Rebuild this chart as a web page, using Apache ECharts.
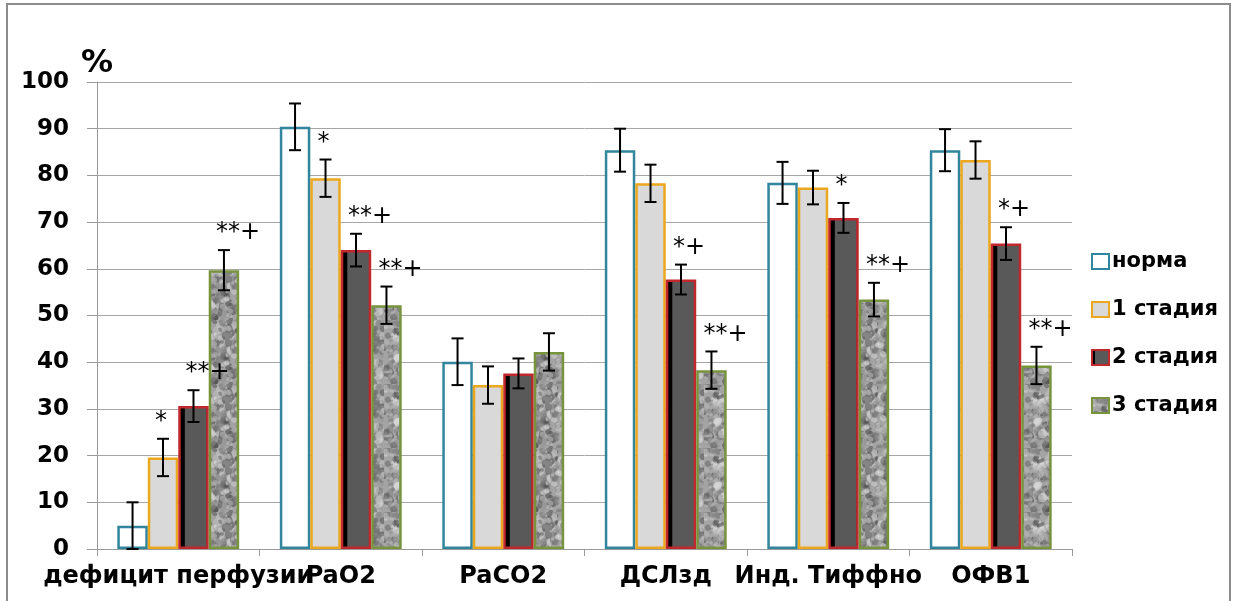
<!DOCTYPE html>
<html>
<head>
<meta charset="utf-8">
<script src="https://cdn.jsdelivr.net/npm/echarts@6/dist/echarts.min.js"></script>
<style>
html,body{margin:0;padding:0;background:#fff;}
#chart{width:1235px;height:601px;}
</style>
</head>
<body>
<div id="chart"></div>
<script>
// данные
var categories = ['дефицит перфузии', 'PaO2', 'PaCO2', 'ДСЛзд', 'Инд. Тиффно', 'ОФВ1'];
var seriesNames = ['норма', '1 стадия', '2 стадия', '3 стадия'];

var norma  = [5, 90.4, 40.1, 85.4, 78.4, 85.4];
var stage1 = [19.6, 79.4, 35.1, 78.3, 77.4, 83.3];
var stage2 = [30.6, 64.0, 37.6, 57.7, 70.9, 65.4];
var stage3 = [59.7, 52.2, 42.2, 38.3, 53.4, 39.3];

var normaErr  = [5, 5, 5, 4.6, 4.5, 4.5];
var stage1Err = [4, 4, 4, 4, 3.6, 4];
var stage2Err = [3.4, 3.5, 3.2, 3.2, 3.2, 3.5];
var stage3Err = [4.3, 4, 4, 4, 3.6, 4];

var stage1Marks = ['*', '*', '', '', '', ''];
var stage2Marks = ['**+', '**+', '', '*+', '*', '*+'];
var stage3Marks = ['**+', '**+', '', '**+', '**+', '**+'];
var normaMarks  = ['', '', '', '', '', ''];

var allValues = [norma, stage1, stage2, stage3];
var allErr = [normaErr, stage1Err, stage2Err, stage3Err];
var allMarks = [normaMarks, stage1Marks, stage2Marks, stage3Marks];

// текстура для 3 стадии
function makeTexture(){
    var c = document.createElement('canvas');
    c.width = 64; c.height = 64;
    var g = c.getContext('2d');
    g.fillStyle = '#a4a4a4';
    g.fillRect(0, 0, 64, 64);
    var seed = 11;
    function rnd(){ seed = (seed * 16807) % 2147483647; return (seed - 1) / 2147483646; }
    for(var i = 0; i < 300; i++){
        var x = rnd() * 64, y = rnd() * 64, r = 1.2 + rnd() * 3.6;
        var v = Math.floor(70 + rnd() * 160);
        g.fillStyle = 'rgba(' + v + ',' + v + ',' + v + ',0.55)';
        g.beginPath();
        g.ellipse(x, y, r, r * (0.5 + rnd() * 0.6), rnd() * 3, 0, Math.PI * 2);
        g.fill();
    }
    return c;
}

var font = 'DejaVu Sans';

var itemStyles = [
    {color: '#ffffff', borderColor: '#31859C', borderWidth: 2.5},
    {color: '#D9D9D9', borderColor: '#EBA81E', borderWidth: 2.5},
    {
        color: new echarts.graphic.LinearGradient(0, 0, 1, 0, [
            {offset: 0, color: '#000'}, {offset: 0.2, color: '#000'},
            {offset: 0.23, color: '#595959'}, {offset: 0.92, color: '#595959'},
            {offset: 0.95, color: '#000'}, {offset: 1, color: '#000'}
        ]),
        borderColor: '#C0282D', borderWidth: 2.5
    },
    {color: {image: makeTexture(), repeat: 'repeat'}, borderColor: '#77933C', borderWidth: 2.5}
];

var series = seriesNames.map(function(name, i){
    return {
        name: name,
        type: 'bar',
        data: allValues[i],
        barGap: '0%',
        barCategoryGap: '25%',
        itemStyle: itemStyles[i]
    };
});

// планки погрешностей + значки
var errData = [];
var errMarks = [];
allValues.forEach(function(vals, s){
    vals.forEach(function(v, c){
        errData.push([c, v, allErr[s][c], s]);
        errMarks.push(allMarks[s][c]);
    });
});

series.push({
    type: 'custom',
    name: 'err',
    data: errData,
    clip: false,
    z: 10,
    silent: true,
    renderItem: function(params, api){
        var c = api.value(0), v = api.value(1), e = api.value(2), s = api.value(3);
        var band = api.size([1, 0])[0];
        var bw = band * 0.75 / 4;
        var cx = api.coord([c, 0])[0] + (s - 1.5) * bw;
        var yTop = api.coord([c, v + e])[1];
        var yBot = api.coord([c, Math.max(v - e, 0)])[1];
        var st = {stroke: '#000', lineWidth: 2};
        var children = [
            {type: 'line', shape: {x1: cx, y1: yTop, x2: cx, y2: yBot}, style: st},
            {type: 'line', shape: {x1: cx - 6, y1: yTop, x2: cx + 6, y2: yTop}, style: st},
            {type: 'line', shape: {x1: cx - 6, y1: yBot, x2: cx + 6, y2: yBot}, style: st}
        ];
        var m = errMarks[params.dataIndex];
        if(m){
            children.push({
                type: 'text',
                style: {
                    x: cx - 8, y: yTop - 17, text: m,
                    font: '24px "' + font + '"', fill: '#000',
                    align: 'left', verticalAlign: 'middle'
                }
            });
        }
        return {type: 'group', children: children};
    }
});

var chart = echarts.init(document.getElementById('chart'));
chart.setOption({
    animation: false,
    backgroundColor: '#fff',
    grid: {left: 97, right: 163, top: 82, bottom: 52},
    legend: {
        data: seriesNames,
        icon: 'rect',
        orient: 'vertical',
        left: 1086,
        top: 246,
        itemWidth: 17,
        itemHeight: 15,
        itemGap: 27,
        selectedMode: false,
        textStyle: {fontFamily: font, fontSize: 21, fontWeight: 'bold', color: '#000', padding: [0, 0, 0, -2]}
    },
    xAxis: {
        type: 'category',
        data: categories,
        axisLine: {lineStyle: {color: '#9a9a9a', width: 1}},
        axisTick: {show: true, length: 7, lineStyle: {color: '#9a9a9a'}},
        axisLabel: {interval: 0, margin: 16, fontFamily: font, fontSize: 24, fontWeight: 'bold', color: '#000'}
    },
    yAxis: {
        type: 'value',
        min: 0,
        max: 100,
        interval: 10,
        name: '%',
        nameGap: 2,
        nameTextStyle: {fontFamily: font, fontSize: 32, fontWeight: 'bold', color: '#000', align: 'center'},
        axisLine: {show: true, lineStyle: {color: '#9a9a9a', width: 1}},
        axisTick: {show: true, length: 10, lineStyle: {color: '#9a9a9a'}},
        splitLine: {lineStyle: {color: '#a6a6a6', width: 1}},
        axisLabel: {margin: 28, fontFamily: font, fontSize: 23, fontWeight: 'bold', color: '#000'}
    },
    graphic: [{
        type: 'rect',
        shape: {x: 7, y: 4, width: 1223, height: 640},
        style: {fill: 'none', stroke: '#8c8c8c', lineWidth: 2},
        silent: true
    }],
    series: series
});
</script>
</body>
</html>
